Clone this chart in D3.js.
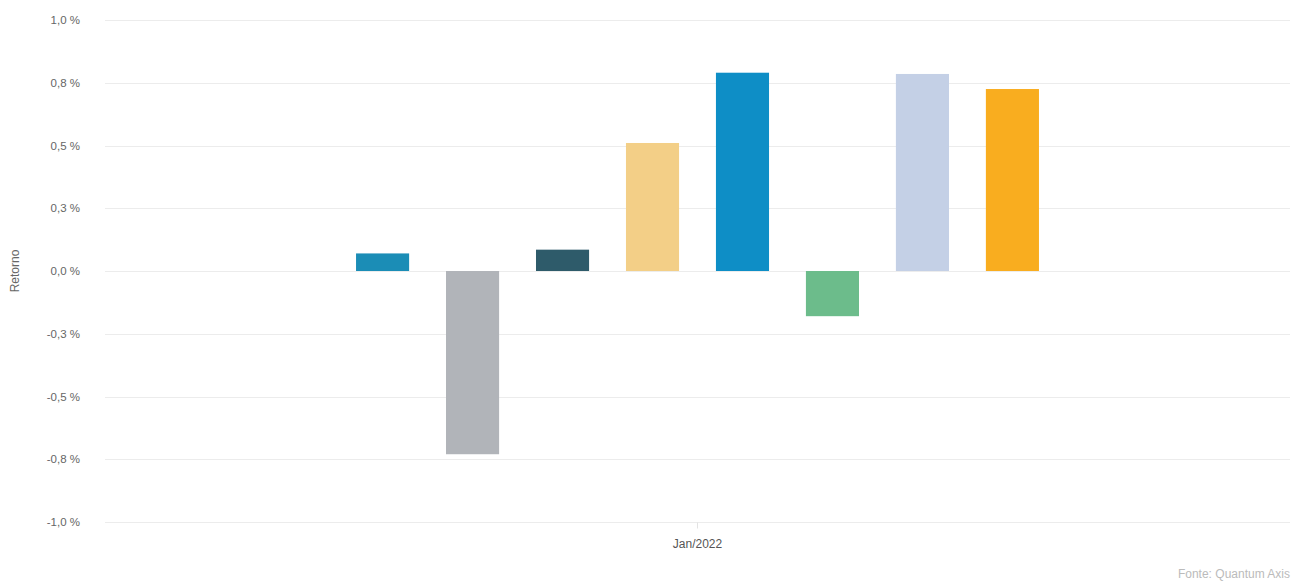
<!DOCTYPE html>
<html>
<head>
<meta charset="utf-8">
<script src="https://cdn.jsdelivr.net/npm/d3@7"></script>
<style>
  html, body { margin: 0; padding: 0; background: #fff; }
  svg { display: block; font-family: "Liberation Sans", Arial, sans-serif; }
</style>
</head>
<body>
<svg id="chart" width="1292" height="581"></svg>
<script>
const categories = ["Jan/2022"];
const series = ["Série 1", "Série 2", "Série 3", "Série 4", "Série 5", "Série 6", "Série 7", "Série 8"];
const values = [0.07, -0.73, 0.085, 0.51, 0.79, -0.18, 0.785, 0.725];
const colors = ["#1b8db6", "#b1b4b9", "#2e5b6a", "#f3cf87", "#0e8ec6", "#6cbc8b", "#c4d0e6", "#f9ad1f"];
const tickValues = [1.0, 0.75, 0.5, 0.25, 0, -0.25, -0.5, -0.75, -1.0];
const tickLabels = ["1,0 %", "0,8 %", "0,5 %", "0,3 %", "0,0 %", "-0,3 %", "-0,5 %", "-0,8 %", "-1,0 %"];

const svg = d3.select("#chart");
const W = 1292, H = 581;
const m = { left: 105, right: 2, top: 20, bottom: 59 };

const y = d3.scaleLinear().domain([-1, 1]).range([H - m.bottom, m.top]);
const x0 = d3.scaleBand().domain(categories).range([m.left, W - m.right]).paddingInner(0).paddingOuter(0);
const x1 = d3.scaleBand().domain(series).range([0, x0.bandwidth()]).paddingInner(0.41).paddingOuter(2.79);

// grid
svg.append("g").selectAll("line").data(tickValues).join("line")
  .attr("x1", m.left).attr("x2", W - m.right)
  .attr("y1", d => Math.round(y(d)) + 0.5).attr("y2", d => Math.round(y(d)) + 0.5)
  .attr("stroke", "#ececec").attr("stroke-width", 1);

// y axis labels
const yAxis = d3.axisLeft(y).tickValues(tickValues).tickSize(0).tickPadding(0)
  .tickFormat((d, i) => tickLabels[i]);
const gy = svg.append("g").attr("transform", `translate(80,0)`).call(yAxis);
gy.select(".domain").remove();
gy.selectAll("text").attr("fill", "#666").style("font-size", "11.5px");

// y title
svg.append("text").attr("transform", `translate(19,${y(0)}) rotate(-90)`)
  .attr("text-anchor", "middle").attr("fill", "#666").style("font-size", "12px").text("Retorno");

// bars
const g = svg.append("g");
categories.forEach(cat => {
  g.append("g").attr("transform", `translate(${x0(cat)},0)`)
    .selectAll("rect").data(series.map((s, i) => ({ s, v: values[i], c: colors[i] }))).join("rect")
    .attr("x", d => x1(d.s))
    .attr("width", x1.bandwidth())
    .attr("y", d => y(Math.max(0, d.v)))
    .attr("height", d => Math.abs(y(d.v) - y(0)))
    .attr("fill", d => d.c);
});

// x axis
const xAxis = d3.axisBottom(x0).tickSize(6).tickPadding(11);
const gx = svg.append("g").attr("transform", `translate(0,${Math.round(y(-1)) + 0.5})`).call(xAxis);
gx.select(".domain").remove();
gx.selectAll(".tick line").attr("stroke", "#e3e3e3");
gx.selectAll("text").attr("fill", "#555").style("font-size", "12px");

// source
svg.append("text").attr("x", 1290).attr("y", 578).attr("text-anchor", "end").attr("fill", "#bbb")
  .style("font-size", "12px").text("Fonte: Quantum Axis");
</script>
</body>
</html>
